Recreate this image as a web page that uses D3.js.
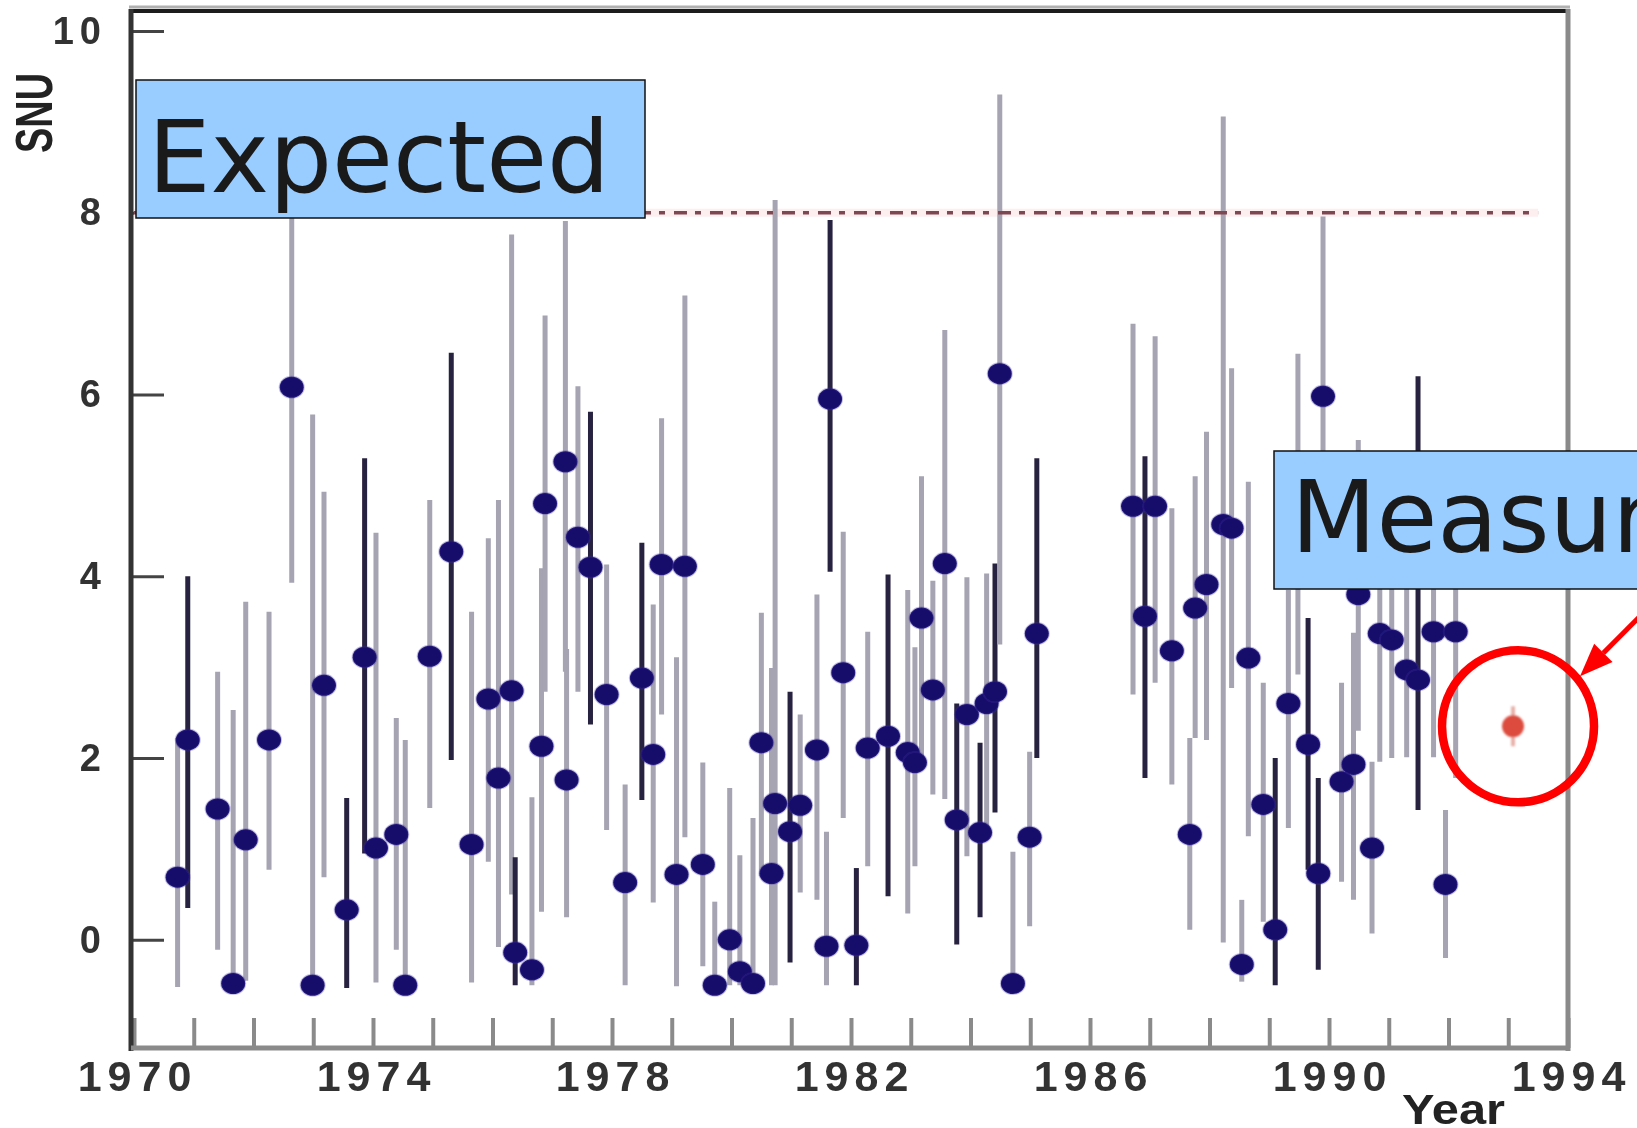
<!DOCTYPE html>
<html>
<head>
<meta charset="utf-8">
<script src="https://cdn.jsdelivr.net/npm/d3@7"></script>
<style>
    html, body { margin: 0; padding: 0; background: #fff; overflow: hidden; }
    svg { display: block; }
</style>
</head>
<body>
<script>

// Chlorine runs (SNU)
var runYear = [1970.73, 1970.90, 1971.40, 1971.66, 1971.87, 1972.26, 1972.64, 1972.99, 1973.18, 1973.56,
    1973.86, 1974.05, 1974.39, 1974.54, 1974.95, 1975.31, 1975.65, 1975.93, 1976.10, 1976.32,
    1976.38, 1976.66, 1976.82, 1976.88, 1977.22, 1977.24, 1977.43, 1977.64, 1977.91, 1978.22,
    1978.50, 1978.69, 1978.83, 1979.08, 1979.22, 1979.52, 1979.72, 1979.97, 1980.14, 1980.36,
    1980.50, 1980.67, 1980.73, 1980.98, 1981.15, 1981.43, 1981.59, 1981.65, 1981.87, 1982.09,
    1982.28, 1982.62, 1982.95, 1983.07, 1983.18, 1983.37, 1983.57, 1983.77, 1983.94, 1984.16,
    1984.27, 1984.41, 1984.49, 1984.71, 1984.99, 1985.11, 1986.72, 1986.92, 1987.09, 1987.37,
    1987.67, 1987.76, 1987.95, 1988.23, 1988.37, 1988.54, 1988.65, 1988.90, 1989.10, 1989.32,
    1989.48, 1989.65, 1989.82, 1989.90, 1990.21, 1990.41, 1990.49, 1990.72, 1990.85, 1991.05,
    1991.30, 1991.49, 1991.75, 1991.95, 1992.12];

var runValue = [0.69, 2.20, 1.44, -0.48, 1.10, 2.20, 6.08, -0.50, 2.80, 0.33,
    3.11, 1.01, 1.16, -0.50, 3.12, 4.27, 1.05, 2.65, 1.78, 2.74,
    -0.14, -0.33, 2.13, 4.80, 5.26, 1.76, 4.43, 4.10, 2.70, 0.63,
    2.88, 2.04, 4.13, 0.72, 4.11, 0.83, -0.50, 0.00, -0.35, -0.48,
    2.17, 0.73, 1.50, 1.19, 1.48, 2.09, -0.07, 5.95, 2.94, -0.06,
    2.11, 2.24, 2.06, 1.95, 3.54, 2.75, 4.14, 1.32, 2.48, 1.18,
    2.60, 2.73, 6.23, -0.48, 1.13, 3.37, 4.77, 3.56, 4.77, 3.18,
    1.16, 3.65, 3.91, 4.57, 4.53, -0.27, 3.10, 1.49, 0.11, 2.60,
    4.70, 2.15, 0.73, 5.98, 1.74, 1.93, 3.80, 1.01, 3.37, 3.30,
    2.97, 2.86, 3.39, 0.61, 3.39];

var runLow = [-0.52, 0.35, -0.11, -0.50, -0.45, 0.77, 3.93, -0.52, 0.69, -0.53,
    0.95, -0.47, -0.11, -0.52, 1.45, 1.98, -0.47, 0.86, -0.08, 0.50,
    -0.50, -0.50, 0.31, 2.73, 2.95, 0.25, 2.73, 2.37, 1.21, -0.50,
    1.54, 0.41, 2.48, -0.51, 1.13, -0.29, -0.52, -0.50, -0.50, -0.52,
    0.70, -0.50, -0.50, -0.25, 0.52, 0.44, -0.50, 4.05, 1.34, -0.50,
    0.81, 0.48, 0.29, 0.81, 1.98, 1.60, 1.55, -0.05, 0.92, 0.25,
    1.20, 1.40, 3.25, -0.50, 0.15, 2.00, 2.70, 1.78, 2.83, 1.71,
    0.11, 2.22, 2.20, -0.03, 2.77, -0.46, 1.14, 0.20, -0.50, 1.23,
    2.92, 0.77, -0.33, 3.95, 0.64, 0.44, 2.30, 0.07, 1.96, 2.00,
    2.01, 1.43, 2.01, -0.20, 1.78];

var runHigh = [2.22, 4.00, 2.95, 2.53, 3.72, 3.61, 8.23, 5.78, 4.93, 1.56,
    5.30, 4.48, 2.44, 2.20, 4.84, 6.46, 3.61, 4.42, 4.84, 7.76,
    0.91, 1.57, 4.09, 6.87, 7.91, 3.20, 6.09, 5.81, 4.13, 1.71,
    4.37, 3.69, 5.74, 3.11, 7.09, 1.95, 0.42, 1.67, 0.93, 1.34,
    3.60, 2.99, 8.14, 2.73, 2.48, 3.80, 1.19, 7.92, 4.49, 0.79,
    3.39, 4.02, 3.85, 3.22, 5.10, 3.95, 6.71, 2.60, 3.99, 2.17,
    4.03, 4.14, 9.30, 0.97, 2.07, 5.30, 6.78, 5.32, 6.64, 4.75,
    2.22, 5.10, 5.59, 9.06, 6.29, 0.44, 5.04, 2.83, 2.00, 3.85,
    6.45, 3.54, 1.78, 7.96, 2.83, 3.38, 5.50, 1.96, 4.78, 4.60,
    4.20, 6.20, 4.80, 1.43, 5.00];

// 1 = run printed with a dark error bar
var runDark = [0, 1, 0, 0, 0, 0, 0, 0, 0, 1,
    1, 0, 0, 0, 0, 1, 0, 0, 0, 0,
    1, 0, 0, 0, 0, 0, 0, 1, 0, 0,
    1, 0, 0, 0, 0, 0, 0, 0, 0, 0,
    0, 0, 0, 1, 0, 0, 0, 1, 0, 1,
    0, 1, 0, 0, 0, 0, 0, 1, 0, 1,
    0, 1, 0, 0, 0, 1, 0, 1, 0, 0,
    0, 0, 0, 0, 0, 0, 0, 0, 1, 0,
    0, 1, 1, 0, 0, 0, 0, 0, 0, 0,
    0, 1, 0, 0, 0];

// the circled "measured" point
var measuredYear = [1993.08];
var measuredValue = [2.35];
var measuredErr = [0.22];

// expected rate
var expectedValue = 8;
var expectedSpan = [1970, 1993.5];

var xTickYears = d3.range(1970, 1995);
var xLabelYears = [1970, 1974, 1978, 1982, 1986, 1990, 1994];
var yTicks = [0, 2, 4, 6, 8, 10];

var svgWidth = 1637, svgHeight = 1128;
var plotLeft = 131, plotRight = 1568, plotTop = 11, plotBottom = 1048;

var svg = d3.select('body').append('svg')
    .attr('width', svgWidth)
    .attr('height', svgHeight);

var x = d3.scaleLinear().domain([1969.95, 1994]).range([plotLeft, plotRight]);
var y = d3.scaleLinear().domain([-1.19, 10.22]).range([plotBottom, plotTop]);

var runs = runYear.map(function (yr, i) {
    return { year: yr, value: runValue[i], low: runLow[i], high: runHigh[i], dark: runDark[i] };
});

var defs = svg.append('defs');
defs.append('filter').attr('id', 'soft')
    .append('feGaussianBlur').attr('stdDeviation', 1.3);
defs.append('filter').attr('id', 'tiny')
    .append('feGaussianBlur').attr('stdDeviation', 0.5);

var labelFont = '"Liberation Sans", Arial, sans-serif';

// axes (ticks pointing inward, like the original)
var xAxis = d3.axisBottom(x)
    .tickValues(xTickYears)
    .tickSize(-30)
    .tickPadding(12)
    .tickFormat(function (d) { return xLabelYears.indexOf(d) >= 0 ? d : ''; });

var gx = svg.append('g')
    .attr('transform', 'translate(0,' + plotBottom + ')')
    .call(xAxis);
gx.select('.domain').remove();
gx.selectAll('.tick line').attr('stroke', '#8a8a8a').attr('stroke-width', 4);
gx.selectAll('.tick text')
    .attr('fill', '#333')
    .attr('dx', 3)
    .attr('filter', 'url(#tiny)')
    .style('font-family', labelFont)
    .style('font-weight', 'bold')
    .style('font-size', '43px')
    .style('letter-spacing', '6px');

var yAxis = d3.axisLeft(y)
    .tickValues(yTicks)
    .tickSize(-33)
    .tickPadding(24);

var gy = svg.append('g')
    .attr('transform', 'translate(' + plotLeft + ',0)')
    .call(yAxis);
gy.select('.domain').remove();
gy.selectAll('.tick line').attr('stroke', '#444').attr('stroke-width', 3);
gy.selectAll('.tick text')
    .attr('fill', '#333')
    .attr('filter', 'url(#tiny)')
    .style('font-family', labelFont)
    .style('font-weight', 'bold')
    .style('font-size', '38px')
    .style('letter-spacing', '6px');

// frame
svg.append('line').attr('x1', plotLeft - 2).attr('x2', plotRight + 2).attr('y1', 7).attr('y2', 7)
    .attr('stroke', '#b0b0b0').attr('stroke-width', 3);
svg.append('line').attr('x1', plotLeft - 2).attr('x2', plotRight).attr('y1', plotTop).attr('y2', plotTop)
    .attr('stroke', '#1c1c1c').attr('stroke-width', 4);
svg.append('line').attr('x1', plotLeft).attr('x2', plotLeft).attr('y1', plotTop - 2).attr('y2', plotBottom + 3)
    .attr('stroke', '#333').attr('stroke-width', 5);
svg.append('line').attr('x1', plotRight).attr('x2', plotRight).attr('y1', plotTop - 2).attr('y2', plotBottom + 3)
    .attr('stroke', '#8a8a8a').attr('stroke-width', 5);
svg.append('line').attr('x1', plotLeft).attr('x2', plotRight + 2).attr('y1', plotBottom).attr('y2', plotBottom)
    .attr('stroke', '#8a8a8a').attr('stroke-width', 5);

// expected level
var expLine = d3.line()
    .x(function (d) { return x(d); })
    .y(function () { return y(expectedValue); });

svg.append('path').datum(expectedSpan)
    .attr('d', expLine)
    .attr('stroke', '#fdeef0').attr('stroke-width', 8).attr('fill', 'none');

// error bars
var plot = svg.append('g').attr('filter', 'url(#tiny)');

plot.selectAll('line.err')
    .data(runs)
    .join('line')
    .attr('class', 'err')
    .attr('x1', function (d) { return x(d.year); })
    .attr('x2', function (d) { return x(d.year); })
    .attr('y1', function (d) { return y(d.low); })
    .attr('y2', function (d) { return y(d.high); })
    .attr('stroke', function (d) { return d.dark ? '#28223f' : '#a6a3b2'; })
    .attr('stroke-width', 5);

svg.append('path').datum(expectedSpan)
    .attr('d', expLine)
    .attr('stroke', '#7e4852').attr('stroke-width', 3.5).attr('fill', 'none')
    .attr('stroke-dasharray', '13,8,6,9');

// run values
plot.selectAll('ellipse.run')
    .data(runs)
    .join('ellipse')
    .attr('class', 'run')
    .attr('cx', function (d) { return x(d.year); })
    .attr('cy', function (d) { return y(d.value); })
    .attr('rx', 12)
    .attr('ry', 10.5)
    .attr('fill', '#170b6b')
    .attr('stroke', '#3d33a0')
    .attr('stroke-opacity', 0.3)
    .attr('stroke-width', 2);

// measured point
var meas = measuredYear.map(function (yr, i) {
    return { year: yr, value: measuredValue[i], err: measuredErr[i] };
});

var mg = svg.append('g').attr('filter', 'url(#soft)');
mg.selectAll('line')
    .data(meas)
    .join('line')
    .attr('x1', function (d) { return x(d.year); })
    .attr('x2', function (d) { return x(d.year); })
    .attr('y1', function (d) { return y(d.value - d.err); })
    .attr('y2', function (d) { return y(d.value + d.err); })
    .attr('stroke', '#e7b0a8').attr('stroke-width', 4);
mg.selectAll('circle')
    .data(meas)
    .join('circle')
    .attr('cx', function (d) { return x(d.year); })
    .attr('cy', function (d) { return y(d.value); })
    .attr('r', 11)
    .attr('fill', '#dc4b3c');

// annotation boxes
function labelBox(bx, by, bw, bh, tx, ty, txt) {
    svg.append('rect')
        .attr('x', bx).attr('y', by).attr('width', bw).attr('height', bh)
        .attr('fill', '#99ccff').attr('stroke', '#111').attr('stroke-width', 1.5);
    svg.append('text')
        .attr('x', tx).attr('y', ty)
        .attr('fill', '#1a1a1a')
        .style('font-family', '"DejaVu Sans", sans-serif')
        .style('font-size', '99px')
        .text(txt);
}

labelBox(136, 80, 509, 138, 148, 192, 'Expected');
labelBox(1274, 451, 620, 138, 1291, 552, 'Measured');

// red circle + arrow round the measured point
var cx = x(measuredYear[0]) + 5, cy = y(measuredValue[0]);
svg.append('circle')
    .attr('cx', cx).attr('cy', cy).attr('r', 76)
    .attr('fill', 'none').attr('stroke', '#f00').attr('stroke-width', 8.5);

var tip = [cx + 62, cy - 50];
var u = [Math.SQRT1_2, -Math.SQRT1_2], n = [Math.SQRT1_2, Math.SQRT1_2];
var base = [tip[0] + 33 * u[0], tip[1] + 33 * u[1]];
svg.append('line')
    .attr('x1', base[0]).attr('y1', base[1])
    .attr('x2', tip[0] + 220 * u[0]).attr('y2', tip[1] + 220 * u[1])
    .attr('stroke', '#f00').attr('stroke-width', 5);
svg.append('path')
    .attr('d', 'M' + tip + 'L' + [base[0] + 13 * n[0], base[1] + 13 * n[1]] +
        'L' + [base[0] - 13 * n[0], base[1] - 13 * n[1]] + 'Z')
    .attr('fill', '#f00');

// axis titles
svg.append('text')
    .attr('transform', 'translate(52,113) rotate(-90)')
    .attr('text-anchor', 'middle')
    .attr('textLength', 80)
    .attr('lengthAdjust', 'spacingAndGlyphs')
    .attr('fill', '#222')
    .attr('filter', 'url(#tiny)')
    .style('font-family', labelFont)
    .style('font-weight', 'bold')
    .style('font-size', '52px')
    .text('SNU');

svg.append('text')
    .attr('x', 1402).attr('y', 1124)
    .attr('textLength', 103)
    .attr('lengthAdjust', 'spacingAndGlyphs')
    .attr('fill', '#222')
    .attr('filter', 'url(#tiny)')
    .style('font-family', labelFont)
    .style('font-weight', 'bold')
    .style('font-size', '42px')
    .text('Year');

</script>
</body>
</html>
